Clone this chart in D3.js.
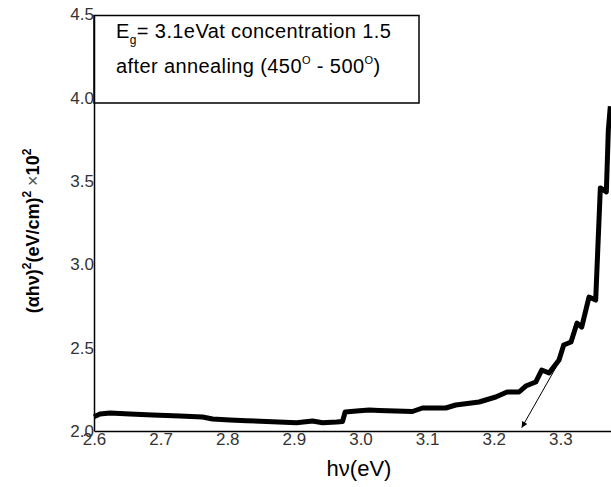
<!DOCTYPE html>
<html>
<head>
<meta charset="utf-8">
<script src="https://cdn.jsdelivr.net/npm/d3@7/dist/d3.min.js"></script>
<style>
  html, body { margin: 0; padding: 0; background: #fff; }
  svg { display: block; font-family: Arial, "Liberation Sans", sans-serif; }
</style>
</head>
<body>
<svg id="chart" width="611" height="487"></svg>
<script>
// ---- data ----
const photonEnergy = [2.600, 2.609, 2.624, 2.654, 2.688, 2.729, 2.763, 2.778, 2.804, 2.829,
  2.868, 2.904, 2.928, 2.943, 2.964, 2.973, 2.977, 2.994, 3.013, 3.028,
  3.078, 3.093, 3.128, 3.143, 3.178, 3.203, 3.220, 3.238, 3.248, 3.263,
  3.272, 3.283, 3.298, 3.305, 3.316, 3.325, 3.332, 3.343, 3.353, 3.360,
  3.369, 3.372, 3.375];
const absorption = [2.086, 2.102, 2.108, 2.102, 2.096, 2.090, 2.084, 2.072, 2.066, 2.062,
  2.056, 2.050, 2.060, 2.050, 2.054, 2.057, 2.114, 2.120, 2.126, 2.123,
  2.117, 2.138, 2.138, 2.156, 2.174, 2.204, 2.234, 2.234, 2.270, 2.294,
  2.366, 2.348, 2.426, 2.516, 2.534, 2.648, 2.624, 2.804, 2.786, 3.459,
  3.435, 3.807, 3.950];
const xTicks = [2.6, 2.7, 2.8, 2.9, 3.0, 3.1, 3.2, 3.3];
const yTicks = [2.0, 2.5, 3.0, 3.5, 4.0, 4.5];
const arrowFrom = [3.296, 2.400];
const arrowTo = [3.242, 2.020];

// ---- layout ----
const svg = d3.select("#chart");
const x = d3.scaleLinear().domain([2.6, 3.376]).range([94, 611]);
const y = d3.scaleLinear().domain([2.0, 4.5]).range([431, 14.5]);
const fmt = d3.format(".1f");

// annotation box
svg.append("rect")
  .attr("x", 94).attr("y", 15.5).attr("width", 325).attr("height", 87.5)
  .attr("fill", "none").attr("stroke", "#000").attr("stroke-width", 1.5);

const t1 = svg.append("text").attr("x", 116).attr("y", 38)
  .attr("font-size", 20).attr("letter-spacing", 0.4).attr("fill", "#000");
t1.append("tspan").text("E");
t1.append("tspan").attr("font-size", 12).attr("dy", 6).text("g");
t1.append("tspan").attr("dy", -6).text("= 3.1eVat concentration 1.5");

const t2 = svg.append("text").attr("x", 116).attr("y", 73)
  .attr("font-size", 20).attr("letter-spacing", 0.4).attr("fill", "#000");
t2.append("tspan").text("after annealing (450");
t2.append("tspan").attr("font-size", 11).attr("dy", -9).text("O");
t2.append("tspan").attr("dy", 9).text(" - 500");
t2.append("tspan").attr("font-size", 11).attr("dy", -9).text("O");
t2.append("tspan").attr("dy", 9).text(")");

// axes
const xAxis = svg.append("g").attr("transform", "translate(0,431)")
  .call(d3.axisBottom(x).tickValues(xTicks).tickFormat(fmt).tickSize(0).tickPadding(2));
const yAxis = svg.append("g").attr("transform", "translate(94,0)")
  .call(d3.axisLeft(y).tickValues(yTicks).tickFormat(fmt).tickSize(0).tickPadding(0));
[xAxis, yAxis].forEach(g => {
  g.select(".domain").attr("stroke", "#000").attr("stroke-width", 1.5);
  g.selectAll("text").attr("font-size", 17).attr("fill", "#333")
    .attr("font-family", "Arial, 'Liberation Sans', sans-serif");
});

// data line
svg.append("path")
  .datum(photonEnergy.map((v, i) => [v, absorption[i]]))
  .attr("fill", "none").attr("stroke", "#000").attr("stroke-width", 5)
  .attr("stroke-linejoin", "round")
  .attr("d", d3.line().x(d => x(d[0])).y(d => y(d[1])));

// tangent arrow
svg.append("defs").append("marker")
  .attr("id", "ah").attr("viewBox", "0 0 10 10").attr("refX", 10).attr("refY", 5)
  .attr("markerWidth", 9).attr("markerHeight", 6).attr("markerUnits", "userSpaceOnUse")
  .attr("orient", "auto")
  .append("path").attr("d", "M0,0 L10,5 L0,10 Z").attr("fill", "#000");
svg.append("line")
  .attr("x1", x(arrowFrom[0])).attr("y1", y(arrowFrom[1]))
  .attr("x2", x(arrowTo[0])).attr("y2", y(arrowTo[1]))
  .attr("stroke", "#000").attr("stroke-width", 1).attr("marker-end", "url(#ah)");

// axis titles
svg.append("text").attr("x", 359).attr("y", 476).attr("text-anchor", "middle")
  .attr("font-size", 22).attr("fill", "#000").text("hν(eV)");

const yt = svg.append("text")
  .attr("transform", "translate(39,231) rotate(-90)")
  .attr("text-anchor", "middle").attr("font-size", 18).attr("font-weight", "bold").attr("fill", "#000");
yt.append("tspan").text("(αhν)");
yt.append("tspan").attr("font-size", 12).attr("dy", -8).text("2");
yt.append("tspan").attr("dy", 8).text("(eV/cm)");
yt.append("tspan").attr("font-size", 12).attr("dy", -8).text("2");
yt.append("tspan").attr("dy", 8).attr("font-weight", "normal").attr("fill", "#555").text(" ×");
yt.append("tspan").text("10");
yt.append("tspan").attr("font-size", 12).attr("dy", -8).text("2");
</script>
</body>
</html>
